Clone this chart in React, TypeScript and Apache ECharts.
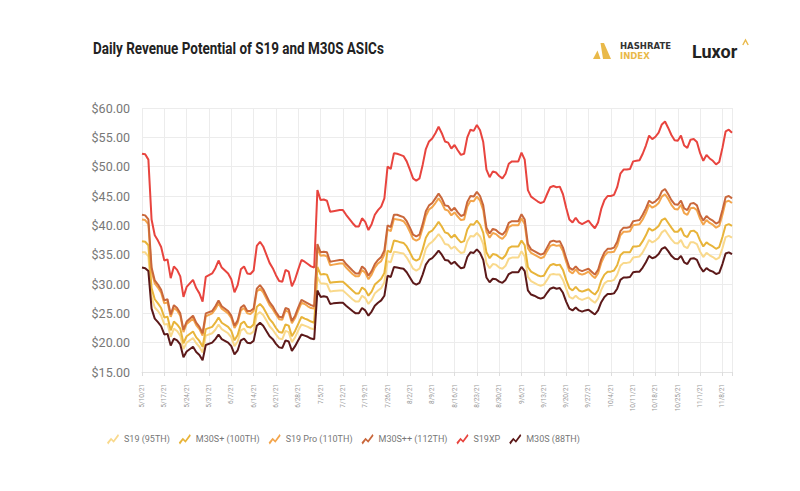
import React, { useEffect, useRef } from 'react';
import * as echarts from 'echarts';

// Week tick labels (every 7 days from 5/10/21)
const weekLabels = [
  '5/10/21', '5/17/21', '5/24/21', '5/31/21', '6/7/21', '6/14/21', '6/21/21', '6/28/21',
  '7/5/21', '7/12/21', '7/19/21', '7/26/21', '8/2/21', '8/9/21', '8/16/21', '8/23/21',
  '8/30/21', '9/6/21', '9/13/21', '9/20/21', '9/27/21', '10/4/21', '10/11/21', '10/18/21',
  '10/25/21', '11/1/21', '11/8/21',
];

// Day index since 5/10/21 for each reading
const days = [
  0, 1, 2, 3, 4, 5, 6, 7, 8, 9,
  10, 11, 12, 13, 14, 16, 17, 18, 19, 20,
  22, 23, 24, 25, 27, 28, 29, 30, 31, 32,
  33, 34, 35, 36, 37, 38, 39, 40, 41, 42,
  43, 44, 45, 46, 47, 48, 49, 50, 51, 52,
  53, 54, 55, 56, 57, 58, 59, 60, 62, 63,
  64, 66, 67, 68, 69, 70, 71, 72, 73, 74,
  75, 76, 77, 78, 79, 80, 81, 82, 83, 84,
  85, 86, 87, 88, 89, 90, 91, 92, 93, 94,
  95, 96, 97, 98, 99, 100, 101, 102, 103, 104,
  105, 106, 107, 108, 109, 110, 111, 112, 113, 114,
  115, 116, 118, 119, 120, 121, 122, 123, 124, 125,
  126, 127, 128, 129, 130, 131, 132, 133, 134, 135,
  136, 137, 138, 139, 140, 141, 142, 143, 144, 145,
  146, 147, 148, 149, 150, 151, 152, 153, 154, 155,
  156, 157, 158, 159, 160, 161, 162, 163, 164, 165,
  166, 167, 168, 169, 170, 171, 172, 173, 174, 175,
  176, 177, 178, 179, 180, 181, 182, 183, 184, 185,
];

const s19xp = [
  52.2, 52.1, 51.2, 41.0, 38.3, 37.4, 36.3, 34.0, 34.2, 31.0,
  33.0, 32.4, 31.3, 27.8, 29.5, 30.7, 29.3, 28.4, 27.0, 31.2,
  31.8, 32.7, 34.0, 32.8, 31.8, 30.8, 28.6, 29.8, 32.5, 33.0,
  31.8, 31.7, 32.3, 36.5, 37.2, 36.4, 35.0, 33.6, 32.7, 31.5,
  30.5, 30.4, 32.4, 32.1, 29.6, 30.8, 32.5, 34.1, 33.8, 33.4,
  33.0, 32.8, 46.0, 44.3, 44.4, 44.2, 42.3, 42.4, 42.6, 42.6,
  41.8, 40.4, 39.8, 39.8, 41.2, 40.6, 39.2, 40.2, 41.8, 42.6,
  43.2, 44.6, 50.0, 49.6, 52.3, 52.2, 52.0, 51.8, 50.9, 49.5,
  48.0, 47.6, 48.0, 50.3, 53.0, 54.3, 54.8, 55.7, 56.8, 55.7,
  54.3, 54.1, 53.1, 53.7, 52.8, 52.0, 52.2, 55.0, 56.3, 56.1,
  57.1, 56.2, 54.2, 49.5, 48.2, 49.2, 49.0, 48.4, 48.0, 48.8,
  50.5, 50.9, 50.9, 52.4, 51.2, 46.0, 44.9, 44.5, 44.1, 43.8,
  44.0, 45.3, 46.5, 46.7, 46.5, 46.6, 45.3, 43.0, 41.0, 40.5,
  41.3, 40.5, 40.2, 40.5, 40.8, 40.1, 39.5, 40.5, 42.8, 44.3,
  45.0, 45.0, 45.2, 46.5, 48.8, 49.5, 49.5, 49.6, 50.9, 51.0,
  51.1, 52.2, 53.6, 55.3, 54.7, 55.1, 55.8, 57.2, 57.7, 56.6,
  55.4, 54.5, 54.4, 55.3, 53.6, 53.2, 54.6, 54.7, 54.2, 52.3,
  51.0, 52.0, 51.4, 51.0, 50.4, 50.8, 53.2, 56.0, 56.3, 55.8,
];

const m30s = [
  32.8, 32.7, 32.2, 25.8, 24.1, 23.5, 22.8, 21.4, 21.5, 19.5,
  20.7, 20.4, 19.7, 17.5, 18.5, 19.3, 18.4, 17.9, 17.0, 19.6,
  20.0, 20.6, 21.4, 20.6, 20.0, 19.4, 18.0, 18.7, 20.4, 20.7,
  20.0, 19.9, 20.3, 22.9, 23.4, 22.9, 22.0, 21.1, 20.6, 19.8,
  19.2, 19.1, 20.4, 20.2, 18.6, 19.4, 20.4, 21.4, 21.2, 21.0,
  20.7, 20.6, 28.9, 27.8, 27.9, 27.8, 26.6, 26.7, 26.8, 26.8,
  26.3, 25.4, 25.0, 25.0, 25.9, 25.5, 24.6, 25.3, 26.3, 26.8,
  27.2, 28.0, 31.4, 31.2, 32.9, 32.8, 32.7, 32.6, 32.0, 31.1,
  30.2, 29.9, 30.2, 31.6, 33.3, 34.1, 34.4, 35.0, 35.7, 35.0,
  34.1, 34.0, 33.4, 33.8, 33.2, 32.7, 32.8, 34.6, 35.4, 35.3,
  35.9, 35.3, 34.1, 31.1, 30.3, 30.9, 30.8, 30.4, 30.2, 30.7,
  31.7, 32.0, 32.0, 32.9, 32.2, 28.9, 28.2, 28.0, 27.7, 27.5,
  27.7, 28.5, 29.2, 29.4, 29.2, 29.3, 28.5, 27.0, 25.8, 25.5,
  26.0, 25.5, 25.3, 25.5, 25.6, 25.2, 24.8, 25.5, 26.9, 27.8,
  28.3, 28.3, 28.4, 29.2, 30.7, 31.1, 31.1, 31.2, 32.0, 32.1,
  32.1, 32.8, 33.7, 34.8, 34.4, 34.6, 35.1, 36.0, 36.3, 35.6,
  34.8, 34.3, 34.2, 34.8, 33.7, 33.4, 34.3, 34.4, 34.1, 32.9,
  32.1, 32.7, 32.3, 32.1, 31.7, 31.9, 33.4, 35.2, 35.4, 35.1,
];

const s19 = [
  35.4, 35.4, 34.7, 27.8, 26.0, 25.4, 24.6, 23.1, 23.2, 21.0,
  22.4, 22.0, 21.2, 18.9, 20.0, 20.8, 19.9, 19.3, 18.3, 21.2,
  21.6, 22.2, 23.1, 22.3, 21.6, 20.9, 19.4, 20.2, 22.1, 22.4,
  21.6, 21.5, 21.9, 24.8, 25.2, 24.7, 23.8, 22.8, 22.2, 21.4,
  20.7, 20.6, 22.0, 21.8, 20.1, 20.9, 22.1, 23.1, 22.9, 22.7,
  22.4, 22.3, 31.2, 30.1, 30.1, 30.0, 28.7, 28.8, 28.9, 28.9,
  28.4, 27.4, 27.0, 27.0, 28.0, 27.6, 26.6, 27.3, 28.4, 28.9,
  29.3, 30.3, 33.9, 33.7, 35.5, 35.4, 35.3, 35.2, 34.5, 33.6,
  32.6, 32.3, 32.6, 34.1, 36.0, 36.8, 37.2, 37.8, 38.5, 37.8,
  36.8, 36.7, 36.0, 36.4, 35.8, 35.3, 35.4, 37.3, 38.2, 38.1,
  38.7, 38.1, 36.8, 33.6, 32.7, 33.4, 33.3, 32.8, 32.6, 33.1,
  34.3, 34.5, 34.5, 35.6, 34.7, 31.2, 30.5, 30.2, 29.9, 29.7,
  29.9, 30.7, 31.6, 31.7, 31.6, 31.6, 30.7, 29.2, 27.8, 27.5,
  28.0, 27.5, 27.3, 27.5, 27.7, 27.2, 26.8, 27.5, 29.0, 30.1,
  30.5, 30.5, 30.7, 31.6, 33.1, 33.6, 33.6, 33.7, 34.5, 34.6,
  34.7, 35.4, 36.4, 37.5, 37.1, 37.4, 37.9, 38.8, 39.2, 38.4,
  37.6, 37.0, 36.9, 37.5, 36.4, 36.1, 37.1, 37.1, 36.8, 35.5,
  34.6, 35.3, 34.9, 34.6, 34.2, 34.5, 36.1, 38.0, 38.2, 37.9,
];

const m30sPlus = [
  37.3, 37.2, 36.6, 29.3, 27.4, 26.7, 25.9, 24.3, 24.4, 22.1,
  23.6, 23.1, 22.4, 19.9, 21.1, 21.9, 20.9, 20.3, 19.3, 22.3,
  22.7, 23.4, 24.3, 23.4, 22.7, 22.0, 20.4, 21.3, 23.2, 23.6,
  22.7, 22.6, 23.1, 26.1, 26.6, 26.0, 25.0, 24.0, 23.4, 22.5,
  21.8, 21.7, 23.1, 22.9, 21.1, 22.0, 23.2, 24.4, 24.1, 23.9,
  23.6, 23.4, 32.9, 31.6, 31.7, 31.6, 30.2, 30.3, 30.4, 30.4,
  29.9, 28.9, 28.4, 28.4, 29.4, 29.0, 28.0, 28.7, 29.9, 30.4,
  30.9, 31.9, 35.7, 35.4, 37.4, 37.3, 37.1, 37.0, 36.4, 35.4,
  34.3, 34.0, 34.3, 35.9, 37.9, 38.8, 39.1, 39.8, 40.6, 39.8,
  38.8, 38.6, 37.9, 38.4, 37.7, 37.1, 37.3, 39.3, 40.2, 40.1,
  40.8, 40.1, 38.7, 35.4, 34.4, 35.1, 35.0, 34.6, 34.3, 34.9,
  36.1, 36.4, 36.4, 37.4, 36.6, 32.9, 32.1, 31.8, 31.5, 31.3,
  31.4, 32.4, 33.2, 33.4, 33.2, 33.3, 32.4, 30.7, 29.3, 28.9,
  29.5, 28.9, 28.7, 28.9, 29.1, 28.6, 28.2, 28.9, 30.6, 31.6,
  32.1, 32.1, 32.3, 33.2, 34.9, 35.4, 35.4, 35.4, 36.4, 36.4,
  36.5, 37.3, 38.3, 39.5, 39.1, 39.4, 39.9, 40.9, 41.2, 40.4,
  39.6, 38.9, 38.9, 39.5, 38.3, 38.0, 39.0, 39.1, 38.7, 37.4,
  36.4, 37.1, 36.7, 36.4, 36.0, 36.3, 38.0, 40.0, 40.2, 39.9,
];

const s19Pro = [
  41.0, 40.9, 40.2, 32.2, 30.1, 29.4, 28.5, 26.7, 26.9, 24.4,
  25.9, 25.5, 24.6, 21.8, 23.2, 24.1, 23.0, 22.3, 21.2, 24.5,
  25.0, 25.7, 26.7, 25.8, 25.0, 24.2, 22.5, 23.4, 25.5, 25.9,
  25.0, 24.9, 25.4, 28.7, 29.2, 28.6, 27.5, 26.4, 25.7, 24.8,
  24.0, 23.9, 25.5, 25.2, 23.3, 24.2, 25.5, 26.8, 26.6, 26.2,
  25.9, 25.8, 36.1, 34.8, 34.9, 34.7, 33.2, 33.3, 33.5, 33.5,
  32.8, 31.7, 31.3, 31.3, 32.4, 31.9, 30.8, 31.6, 32.8, 33.5,
  33.9, 35.0, 39.3, 39.0, 41.1, 41.0, 40.9, 40.7, 40.0, 38.9,
  37.7, 37.4, 37.7, 39.5, 41.6, 42.7, 43.1, 43.8, 44.6, 43.8,
  42.7, 42.5, 41.7, 42.2, 41.5, 40.9, 41.0, 43.2, 44.2, 44.1,
  44.9, 44.2, 42.6, 38.9, 37.9, 38.7, 38.5, 38.0, 37.7, 38.3,
  39.7, 40.0, 40.0, 41.2, 40.2, 36.1, 35.3, 35.0, 34.7, 34.4,
  34.6, 35.6, 36.5, 36.7, 36.5, 36.6, 35.6, 33.8, 32.2, 31.8,
  32.5, 31.8, 31.6, 31.8, 32.1, 31.5, 31.0, 31.8, 33.6, 34.8,
  35.4, 35.4, 35.5, 36.5, 38.3, 38.9, 38.9, 39.0, 40.0, 40.1,
  40.2, 41.0, 42.1, 43.5, 43.0, 43.3, 43.8, 44.9, 45.3, 44.5,
  43.5, 42.8, 42.7, 43.5, 42.1, 41.8, 42.9, 43.0, 42.6, 41.1,
  40.1, 40.9, 40.4, 40.1, 39.6, 39.9, 41.8, 44.0, 44.2, 43.8,
];

const m30sPlusPlus = [
  41.8, 41.7, 41.0, 32.8, 30.6, 29.9, 29.0, 27.2, 27.4, 24.8,
  26.4, 25.9, 25.0, 22.2, 23.6, 24.6, 23.4, 22.7, 21.6, 25.0,
  25.4, 26.2, 27.2, 26.2, 25.4, 24.6, 22.9, 23.8, 26.0, 26.4,
  25.4, 25.4, 25.8, 29.2, 29.8, 29.1, 28.0, 26.9, 26.2, 25.2,
  24.4, 24.3, 25.9, 25.7, 23.7, 24.6, 26.0, 27.3, 27.0, 26.7,
  26.4, 26.2, 36.8, 35.4, 35.5, 35.4, 33.8, 33.9, 34.1, 34.1,
  33.4, 32.3, 31.8, 31.8, 33.0, 32.5, 31.4, 32.2, 33.4, 34.1,
  34.6, 35.7, 40.0, 39.7, 41.8, 41.8, 41.6, 41.4, 40.7, 39.6,
  38.4, 38.1, 38.4, 40.2, 42.4, 43.4, 43.8, 44.6, 45.4, 44.6,
  43.4, 43.3, 42.5, 43.0, 42.2, 41.6, 41.8, 44.0, 45.0, 44.9,
  45.7, 45.0, 43.4, 39.6, 38.6, 39.4, 39.2, 38.7, 38.4, 39.0,
  40.4, 40.7, 40.7, 41.9, 41.0, 36.8, 35.9, 35.6, 35.3, 35.0,
  35.2, 36.2, 37.2, 37.4, 37.2, 37.3, 36.2, 34.4, 32.8, 32.4,
  33.0, 32.4, 32.2, 32.4, 32.6, 32.1, 31.6, 32.4, 34.2, 35.4,
  36.0, 36.0, 36.2, 37.2, 39.0, 39.6, 39.6, 39.7, 40.7, 40.8,
  40.9, 41.8, 42.9, 44.2, 43.8, 44.1, 44.6, 45.8, 46.2, 45.3,
  44.3, 43.6, 43.5, 44.2, 42.9, 42.6, 43.7, 43.8, 43.4, 41.8,
  40.8, 41.6, 41.1, 40.8, 40.3, 40.6, 42.6, 44.8, 45.0, 44.6,
];

const TITLE = 'Daily Revenue Potential of S19 and M30S ASICs';
const FONT = "Roboto, 'Liberation Sans', sans-serif";
const GOLD = '#e9b949';
const LEGEND_ICON =
  'path://M0,9L4,4.3L6.5,6.8L11,0.5L12,2.3L6.7,9.3L4.2,6.8L1.2,11Z';

function measureWidth(text: string, font: string): number {
  const canvas = document.createElement('canvas');
  const ctx = canvas.getContext('2d');
  if (!ctx) return 0;
  ctx.font = font;
  return ctx.measureText(text).width;
}

export default function App() {
  const ref = useRef<HTMLDivElement>(null);

  useEffect(() => {
    document.body.style.margin = '0';
    const chart = echarts.init(ref.current as HTMLDivElement, null, { renderer: 'svg' });

    const titleFont = 'bold 17px Roboto';
    const titleW = measureWidth(TITLE, titleFont);
    const titleScale = titleW > 0 ? 291 / titleW : 0.78;

    const pairs = (arr: number[]) => days.map((d, i) => [d, arr[i]]);
    const defs = [
      { name: 'S19 (95TH)', values: s19, color: '#f9d98c' },
      { name: 'M30S+ (100TH)', values: m30sPlus, color: '#e8b43a' },
      { name: 'S19 Pro (110TH)', values: s19Pro, color: '#f3a54c' },
      { name: 'M30S++ (112TH)', values: m30sPlusPlus, color: '#c9673b' },
      { name: 'S19XP', values: s19xp, color: '#e8443e' },
      { name: 'M30S (88TH)', values: m30s, color: '#5c1919' },
    ];

    chart.setOption({
      animation: false,
      backgroundColor: '#ffffff',
      grid: { left: 142, right: 68, top: 108, bottom: 119, containLabel: false },
      legend: {
        left: 107,
        top: 434,
        padding: 0,
        itemGap: 9,
        itemWidth: 12,
        itemHeight: 11,
        icon: LEGEND_ICON,
        selectedMode: false,
        textStyle: { fontFamily: FONT, fontSize: 9, color: '#777777' },
        data: defs.map((d) => d.name),
      },
      xAxis: {
        type: 'value',
        min: 0,
        max: 185,
        interval: 7,
        axisLine: { show: true, lineStyle: { color: '#e3e3e3' } },
        axisTick: { show: true, length: 4, lineStyle: { color: '#dddddd' } },
        splitLine: { show: true, lineStyle: { color: '#ececec', width: 1 } },
        axisLabel: {
          rotate: 90,
          margin: 12,
          fontFamily: FONT,
          fontSize: 6.5,
          color: '#999999',
          formatter: (v: number) => (v % 7 === 0 && weekLabels[v / 7] ? weekLabels[v / 7] : ''),
        },
      },
      yAxis: {
        type: 'value',
        min: 15,
        max: 60,
        interval: 5,
        axisLine: { show: false },
        axisTick: { show: false },
        splitLine: { show: true, lineStyle: { color: '#ececec', width: 1 } },
        axisLabel: {
          margin: 12,
          fontFamily: FONT,
          fontSize: 12.5,
          color: '#777777',
          formatter: (v: number) => '$' + v.toFixed(2),
        },
      },
      series: defs.map((d) => ({
        name: d.name,
        type: 'line',
        data: pairs(d.values),
        showSymbol: false,
        symbol: 'none',
        color: d.color,
        lineStyle: { color: d.color, width: 2 },
        emphasis: { disabled: true },
      })),
      graphic: [
        {
          type: 'text',
          x: 93,
          y: 48.5,
          scaleX: titleScale,
          style: {
            text: TITLE,
            font: titleFont,
            fill: '#222222',
            textVerticalAlign: 'middle',
          },
        },
        {
          type: 'polygon',
          shape: { points: [[593, 59], [597.5, 50.5], [600.5, 59]] },
          style: { fill: GOLD },
        },
        {
          type: 'polygon',
          shape: { points: [[600.5, 43], [604, 43], [611, 59], [603, 59]] },
          style: { fill: GOLD },
        },
        {
          type: 'text',
          x: 620,
          y: 46,
          style: {
            text: 'HASHRATE',
            font: "bold 8.5px 'DejaVu Sans'",
            fill: '#333333',
            textVerticalAlign: 'middle',
          },
        },
        {
          type: 'text',
          x: 620,
          y: 55.5,
          style: {
            text: 'INDEX',
            font: "bold 8.5px 'DejaVu Sans'",
            fill: GOLD,
            textVerticalAlign: 'middle',
          },
        },
        {
          type: 'text',
          x: 692,
          y: 51,
          style: {
            text: 'Luxor',
            font: 'bold 18px Roboto',
            fill: '#222222',
            textVerticalAlign: 'middle',
          },
        },
        {
          type: 'polyline',
          shape: { points: [[742.8, 45], [745.5, 40], [748.2, 45]] },
          style: { stroke: GOLD, lineWidth: 1.4, fill: 'none' },
        },
      ],
    });

    return () => chart.dispose();
  }, []);

  return <div ref={ref} style={{ width: 800, height: 491 }} />;
}
